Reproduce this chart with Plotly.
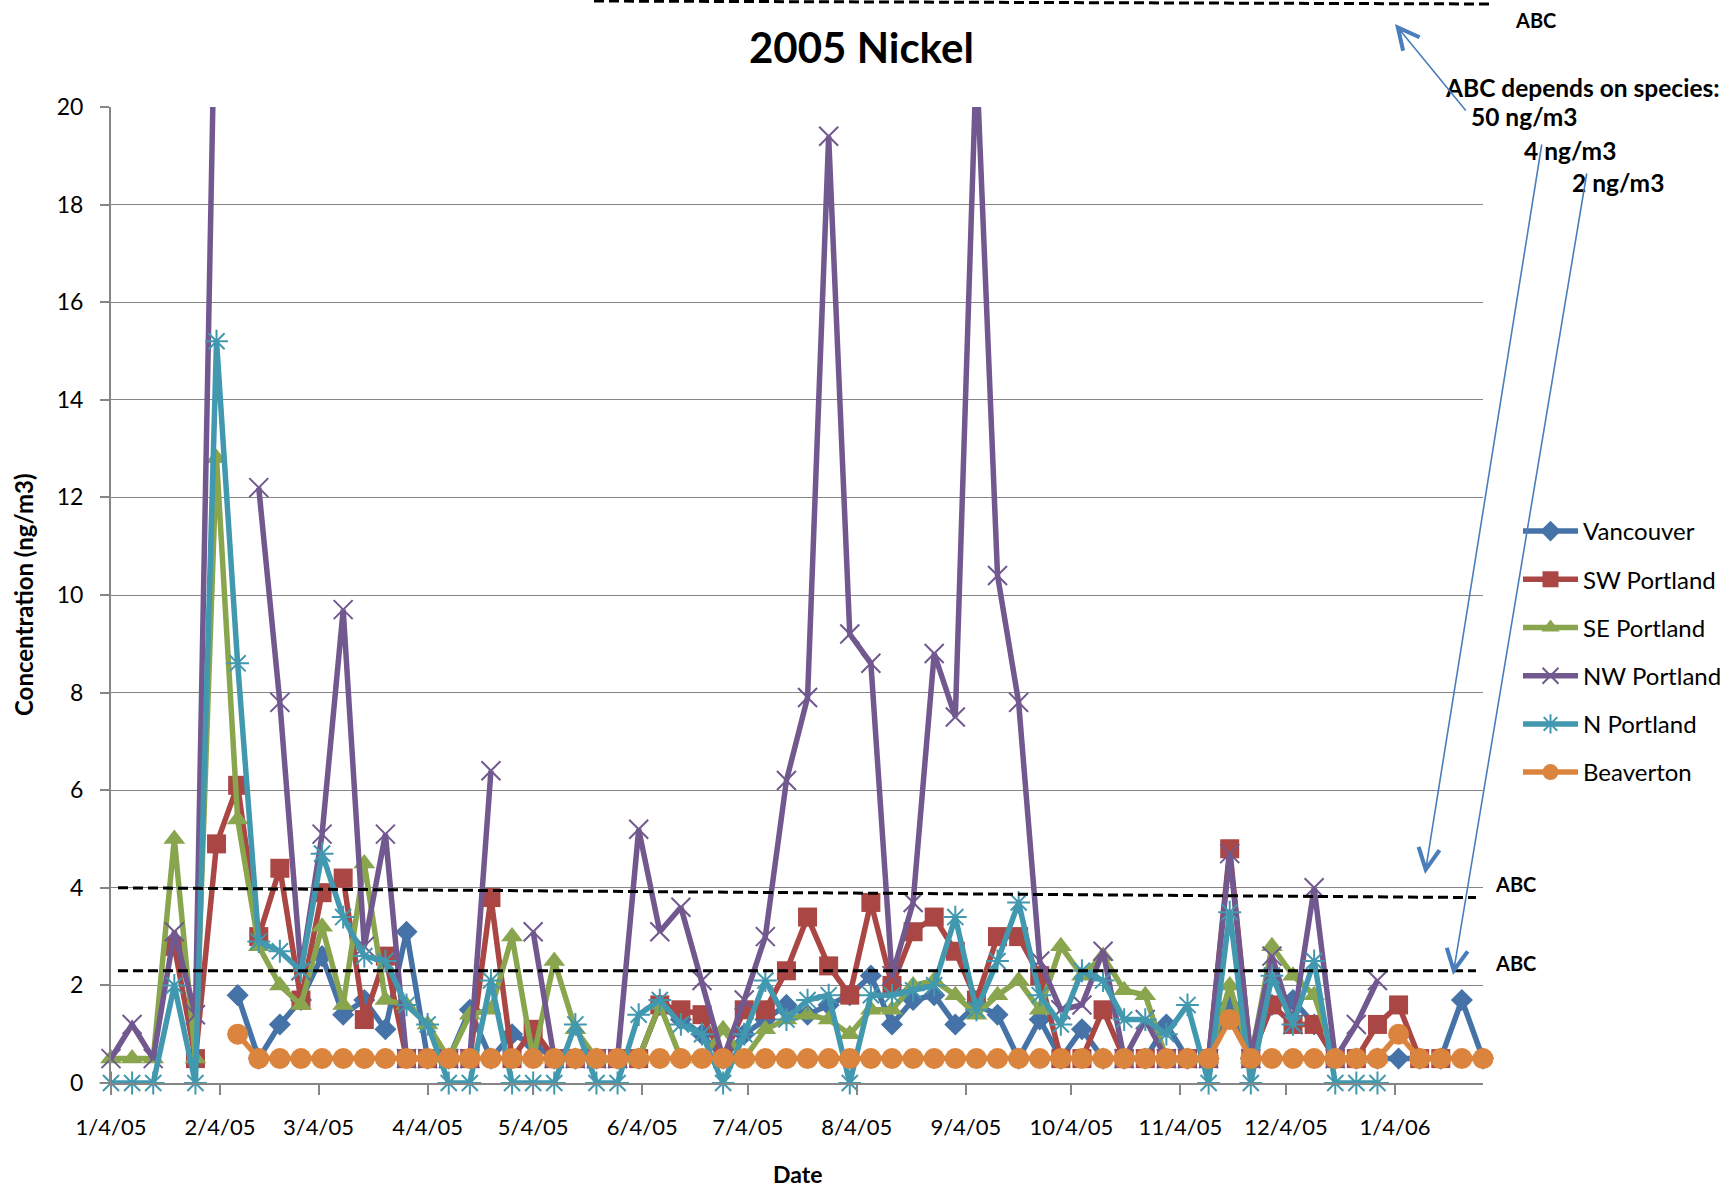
import pandas as pd
import plotly.graph_objects as go

# Sampling schedule: one sample every sixth day, 1/4/05 through 1/29/06
sample_dates = pd.date_range("2005-01-04", periods=66, freq="6D")

N = None
vancouver = [N, N, N, N, N, N, 1.8, 0.5, 1.2, 1.7, 2.6, 1.4, 1.7, 1.1, 3.1, 0.5,
             0.5, 1.5, 0.5, 1.0, 0.8, 0.5, 0.5, 0.5, 0.5, 0.5, 1.6, 1.3, 1.0, 0.5,
             1.0, 1.3, 1.6, 1.4, 1.6, 1.8, 2.2, 1.2, 1.7, 1.8, 1.2, 1.6, 1.4, 0.5,
             1.3, 0.5, 1.1, 0.5, 0.5, 0.5, 1.2, 0.5, 0.5, 1.6, 0.5, 1.6, 1.7, 1.2,
             0.5, 0.5, 0.5, 0.5, 0.5, 0.5, 1.7, 0.5]
sw_portland = [N, N, N, 2.8, 0.5, 4.9, 6.1, 3.0, 4.4, 1.7, 3.9, 4.2, 1.3, 2.6, 0.5, 0.5,
               0.5, 0.5, 3.8, 0.5, 1.1, 0.5, 0.5, 0.5, 0.5, 0.5, 1.6, 1.5, 1.4, 0.5,
               1.5, 1.5, 2.3, 3.4, 2.4, 1.8, 3.7, 2.0, 3.1, 3.4, 2.7, 1.7, 3.0, 3.0,
               2.2, 0.5, 0.5, 1.5, 0.5, 0.5, 0.5, 0.5, 0.5, 4.8, 0.5, 1.6, 1.2, 1.2,
               0.5, 0.5, 1.2, 1.6, 0.5, 0.5, N, N]
se_portland = [0.5, 0.5, 0.5, 5.0, 0.5, 12.8, 5.4, 2.8, 2.0, 1.6, 3.2, 1.6, 4.5, 1.7, 1.6, 1.2,
               0.5, 1.4, 1.5, 3.0, 0.5, 2.5, 1.1, 0.5, 0.5, 0.5, 1.6, 0.5, 0.5, 1.1,
               0.5, 1.1, 1.3, 1.4, 1.3, 1.0, 1.5, 1.5, 2.0, 2.1, 1.8, 1.4, 1.8, 2.1,
               1.5, 2.8, 2.2, 2.6, 1.9, 1.8, 0.5, 0.5, 0.5, 2.0, 0.5, 2.8, 2.2, 1.8,
               0.5, 0.5, 0.5, N, N, N, N, N]
nw_portland = [0.5, 1.2, 0.5, 3.1, 1.4, 24.0, N, 12.2, 7.8, 2.3, 5.1, 9.7, 2.8, 5.1, 0.5, 0.5,
               0.5, 0.5, 6.4, N, 3.1, 0.5, 0.5, 0.5, 0.5, 5.2, 3.1, 3.6, 2.1, 0.5,
               1.7, 3.0, 6.2, 7.9, 19.4, 9.2, 8.6, 2.2, 3.7, 8.8, 7.5, 21.0, 10.4, 7.8,
               2.5, 1.5, 1.6, 2.7, 0.5, 1.3, 0.5, 0.5, 0.5, 4.7, 0.5, 2.6, 1.2, 4.0,
               0.5, 1.2, 2.1, N, N, N, N, N]
n_portland = [0.0, 0.0, 0.0, 2.0, 0.0, 15.2, 8.6, 2.9, 2.7, 2.3, 4.7, 3.4, 2.6, 2.5, 1.6, 1.2,
              0.0, 0.0, 2.1, 0.0, 0.0, 0.0, 1.2, 0.0, 0.0, 1.4, 1.7, 1.2, 1.0, 0.0,
              1.0, 2.1, 1.3, 1.7, 1.8, 0.0, 1.8, 1.8, 1.9, 2.0, 3.4, 1.5, 2.5, 3.7,
              1.8, 1.2, 2.3, 2.1, 1.3, 1.3, 1.0, 1.6, 0.0, 3.5, 0.0, 2.2, 1.2, 2.5,
              0.0, 0.0, 0.0, N, N, N, N, N]
beaverton = [N, N, N, N, N, N, 1.0, 0.5, 0.5, 0.5, 0.5, 0.5, 0.5, 0.5, 0.5, 0.5,
             0.5, 0.5, 0.5, 0.5, 0.5, 0.5, 0.5, 0.5, 0.5, 0.5, 0.5, 0.5, 0.5, 0.5,
             0.5, 0.5, 0.5, 0.5, 0.5, 0.5, 0.5, 0.5, 0.5, 0.5, 0.5, 0.5, 0.5, 0.5,
             0.5, 0.5, 0.5, 0.5, 0.5, 0.5, 0.5, 0.5, 0.5, 1.3, 0.5, 0.5, 0.5, 0.5,
             0.5, 0.5, 0.5, 1.0, 0.5, 0.5, 0.5, 0.5]

site_names = ["Vancouver", "SW Portland", "SE Portland", "NW Portland", "N Portland", "Beaverton"]
site_values = [vancouver, sw_portland, se_portland, nw_portland, n_portland, beaverton]

# Month tick labels along the date axis
tick_dates = ["2005-01-04", "2005-02-04", "2005-03-04", "2005-04-04", "2005-05-04",
              "2005-06-04", "2005-07-04", "2005-08-04", "2005-09-04", "2005-10-04",
              "2005-11-04", "2005-12-04", "2006-01-04"]
tick_labels = ["1/4/05", "2/4/05", "3/4/05", "4/4/05", "5/4/05", "6/4/05", "7/4/05",
               "8/4/05", "9/4/05", "10/4/05", "11/4/05", "12/4/05", "1/4/06"]

# Benchmark (ABC) reference lines: start/end levels and dates
abc_dates = ["2005-01-06", "2006-01-27"]
abc_upper = [4.0, 3.8]
abc_lower = [2.3, 2.3]

colors = ["#4572A7", "#AA4643", "#89A54E", "#71588F", "#4198AF", "#DB843D"]
symbols = ["diamond", "square", "triangle-up", "x-thin-open", "asterisk-open", "circle"]
sizes = [17, 19, 19, 19, 19, 21]

FONT = "Lato"
W, H = 1726, 1190
L, T, PW, PH = 111, 107, 1372, 976


def px(x):
    return (x - L) / PW


def py(y):
    return (T + PH - y) / PH


fig = go.Figure()
for i, (name, vals) in enumerate(zip(site_names, site_values)):
    open_sym = symbols[i].endswith("open")
    fig.add_trace(go.Scatter(
        x=sample_dates, y=vals, name=name, mode="lines+markers",
        legendgroup=name,
        line=dict(color=colors[i], width=5.5),
        marker=dict(symbol=symbols[i], size=sizes[i], color=colors[i],
                    line=dict(color=colors[i], width=2 if open_sym else 0)),
        connectgaps=False, cliponaxis=False,
    ))

# ABC reference lines inside the plot
for levels in (abc_upper, abc_lower):
    fig.add_shape(type="line", xref="x", yref="y",
                  x0=abc_dates[0], x1=abc_dates[1], y0=levels[0], y1=levels[1],
                  line=dict(color="black", width=3, dash="10px,5px"))

# ABC line above the plot (50 ng/m3 level)
fig.add_shape(type="line", xref="paper", yref="paper",
              x0=px(594), x1=px(1493), y0=py(1), y1=py(4),
              line=dict(color="black", width=3, dash="10px,5px"))

annos = []
annos.append(dict(text="<b>2005 Nickel</b>", x=px(861), y=py(47), xanchor="center",
                  yanchor="middle", font=dict(size=42, family=FONT, color="black")))
annos.append(dict(text="<b>Concentration (ng/m3)</b>", x=px(23), y=py(595), textangle=-90,
                  xanchor="center", yanchor="middle",
                  font=dict(size=24, family=FONT, color="black")))
annos.append(dict(text="<b>Date</b>", x=px(797), y=py(1174), xanchor="center",
                  yanchor="middle", font=dict(size=23, family=FONT, color="black")))

label_specs = [
    ("<b>ABC</b>", 1513, 20, 20),
    ("<b>ABC depends on species:</b>", 1443, 87, 24.5),
    ("<b>50 ng/m3</b>", 1469, 117, 24.5),
    ("<b>4 ng/m3</b>", 1522, 150, 24.5),
    ("<b>2 ng/m3</b>", 1570, 182, 24.5),
    ("<b>ABC</b>", 1493, 884, 20),
    ("<b>ABC</b>", 1493, 963, 20),
]
for txt, x, y, s in label_specs:
    annos.append(dict(text=txt, x=px(x), y=py(y), xanchor="left", yanchor="middle",
                      font=dict(size=s, family=FONT, color="black")))

# Callout arrows: (tail x, tail y, head x, head y)
arrow_specs = [(1467, 112, 1395, 24), (1542, 143, 1425, 874), (1587, 172, 1453, 975)]
for tx, ty, hx, hy in arrow_specs:
    annos.append(dict(text="", x=px(hx), y=py(hy), ax=tx - hx, ay=ty - hy,
                      showarrow=True, arrowhead=5, arrowsize=2.6, arrowwidth=1.6,
                      arrowcolor="#4A7EBB"))

for a in annos:
    a.setdefault("xref", "paper")
    a.setdefault("yref", "paper")
    a.setdefault("showarrow", False)

fig.update_layout(
    width=W, height=H, autosize=False,
    margin=dict(l=L, r=W - L - PW, t=T, b=H - T - PH, autoexpand=False),
    plot_bgcolor="white", paper_bgcolor="white",
    font=dict(family=FONT, color="black"),
    showlegend=True,
    legend=dict(x=px(1518), y=py(509), xanchor="left", yanchor="top",
                font=dict(size=24, family=FONT, color="black"),
                itemwidth=55, tracegroupgap=14, traceorder="grouped",
                bgcolor="rgba(0,0,0,0)"),
    annotations=annos,
)
fig.update_xaxes(
    type="date", range=[sample_dates[0], sample_dates[-1]],
    tickvals=tick_dates, ticktext=tick_labels,
    showgrid=False, showline=True, linecolor="#868686", linewidth=2,
    ticks="outside", ticklen=10, tickwidth=1.5, tickcolor="#868686",
    tickfont=dict(size=22, family=FONT, color="black"), ticklabelstandoff=14,
    zeroline=False,
)
fig.update_yaxes(
    range=[0, 20], dtick=2, tick0=0,
    showgrid=True, gridcolor="#868686", gridwidth=1.3,
    showline=True, linecolor="#868686", linewidth=2,
    ticks="outside", ticklen=9, tickwidth=1.5, tickcolor="#868686",
    tickfont=dict(size=23, family=FONT, color="black"), ticklabelstandoff=12,
    zeroline=False,
)

fig.write_html("out.html")
